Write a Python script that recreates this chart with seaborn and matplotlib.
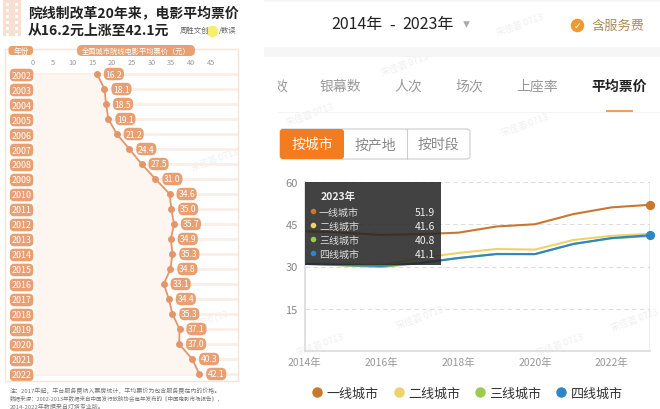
"""Ticket price comparison: national yearly dot line plus app screenshot by city tier."""

import matplotlib

matplotlib.use("Agg")

import matplotlib.pyplot as plt
import pandas as pd
import seaborn as sns
from matplotlib.lines import Line2D
from matplotlib.patches import FancyBboxPatch, Rectangle

years = list(range(2002, 2023))
prices = [16.2, 18.1, 18.5, 19.1, 21.2, 24.4, 27.5, 31.0, 34.6, 35.0, 35.7,
          34.9, 35.3, 34.8, 33.1, 34.4, 35.3, 37.1, 37.0, 40.3, 42.1]
price_ticks = [0, 5, 10, 15, 20, 25, 30, 35, 40, 45]

tier_years = list(range(2014, 2024))
tier1 = [42.5, 42.0, 41.2, 41.5, 42.0, 44.2, 45.0, 48.6, 51.0, 51.9]
tier2 = [31.2, 30.8, 30.6, 33.0, 34.8, 36.2, 36.0, 39.4, 40.9, 41.6]
tier3 = [31.0, 30.4, 29.8, 31.2, 33.0, 34.5, 34.4, 38.0, 40.0, 40.8]
tier4 = [30.9, 30.5, 30.2, 31.2, 33.0, 34.4, 34.4, 38.0, 40.1, 41.1]
tier_names = ["一线城市", "二线城市", "三线城市", "四线城市"]
tier_colors = ["#c9772f", "#ecd36a", "#9ccb4e", "#2f86c5"]
tabs = ["银幕数", "人次", "场次", "上座率", "平均票价"]
tooltip_values = ["51.9", "41.6", "40.8", "41.1"]

PEACH = "#e8a072"
WIDTH, HEIGHT = 660, 410

sns.set_theme(style="white")
plt.rcParams["font.family"] = ["Noto Sans CJK SC", "DejaVu Sans"]

fig = plt.figure(figsize=(WIDTH / 100, HEIGHT / 100), dpi=100)


def px_axes(left, top, right, bottom, **kwargs):
    return fig.add_axes([left / WIDTH, 1 - bottom / HEIGHT, (right - left) / WIDTH, (bottom - top) / HEIGHT], **kwargs)


# faint watermarks go on a bottom layer so they never cover the marks
wm = px_axes(0, 0, WIDTH, HEIGHT, zorder=-1)
wm.set_xlim(0, WIDTH)
wm.set_ylim(HEIGHT, 0)
wm.axis("off")
for mark_x, mark_y in [(75, 120), (55, 257), (215, 160), (205, 322), (310, 115), (405, 65), (525, 125),
                       (420, 318), (320, 345), (560, 345), (635, 320), (520, 25)]:
    wm.text(mark_x, mark_y, "宋佳荟 0713", fontsize=6.5, color="#efefef", rotation=20, ha="center", va="center")

# left panel: national average price
ax_l = px_axes(33, 68, 238, 382)
ax_l.patch.set_alpha(0)
ax_l.grid(axis="y", color="#f9efe9", lw=2)
ax_l.fill_betweenx(years, 0, prices, color="#fdf5f0", lw=0, zorder=1.5)
sns.lineplot(x=prices, y=years, orient="y", sort=False, estimator=None, color="#e3966a", lw=1.3,
             marker="o", markersize=5, markeredgewidth=0, ax=ax_l)
for year, price in zip(years, prices):
    ax_l.annotate(f"{price:.1f}", (price, year), xytext=(12.2, 0), textcoords="offset points",
                  ha="center", va="center", fontsize=6.2, color="white",
                  bbox=dict(boxstyle="round,pad=0.2,rounding_size=0.6", fc=PEACH, ec="none"))
ax_l.set_xlim(0, 205 / 3.95)
ax_l.set_ylim(2022 + 7 / 15, 2002 - 7 / 15)
ax_l.xaxis.tick_top()
ax_l.set_xticks(price_ticks)
ax_l.set_yticks(years)
ax_l.tick_params(axis="x", labelsize=5.3, labelcolor="#999999", length=0, pad=1)
ax_l.tick_params(axis="y", labelsize=6.4, labelcolor="white", length=0, pad=1)
for label in ax_l.get_yticklabels():
    label.set_bbox(dict(boxstyle="round,pad=0.2,rounding_size=0.5", fc=PEACH, ec="none"))
sns.despine(ax=ax_l, left=True, bottom=True, top=True, right=True)

# right panel: price by city tier
tier_df = pd.DataFrame({"year": tier_years, "一线城市": tier1, "二线城市": tier2, "三线城市": tier3, "四线城市": tier4})
tier_long = tier_df.melt(id_vars="year", var_name="tier", value_name="price")

ax_r = px_axes(304.7, 183, 650, 352)
ax_r.patch.set_alpha(0)
sns.lineplot(data=tier_long, x="year", y="price", hue="tier", hue_order=tier_names, palette=tier_colors,
             lw=1.5, legend=False, ax=ax_r)
ax_r.scatter(tier_years[-1], tier1[-1], s=32, color=tier_colors[0], zorder=5, clip_on=False)
ax_r.scatter(tier_years[-1], tier4[-1], s=32, color=tier_colors[3], zorder=5, clip_on=False)
ax_r.axvline(tier_years[-1], color="#aaaaaa", lw=1)
ax_r.set_xlim(2014, 2023)
ax_r.set_ylim(0, 60)
ax_r.set_xticks([2014, 2016, 2018, 2020, 2022], ["2014年", "2016年", "2018年", "2020年", "2022年"])
ax_r.set_yticks([15, 30, 45, 60])
ax_r.set_xlabel("")
ax_r.set_ylabel("")
ax_r.grid(axis="y", color="#dddddd", ls=(0, (4, 3)), lw=0.8)
ax_r.tick_params(axis="x", labelsize=7.5, labelcolor="#999999", length=0, pad=4)
ax_r.tick_params(axis="y", labelsize=8, labelcolor="#888888", length=0, pad=5)
for side in ["top", "right"]:
    ax_r.spines[side].set_visible(False)
for side in ["left", "bottom"]:
    ax_r.spines[side].set_color("#dddddd")

handles = [Line2D([], [], ls="", marker="o", ms=6.5, color=c) for c in tier_colors]
fig.legend(handles, tier_names, ncol=4, frameon=False, fontsize=9.4, labelcolor="#333333",
           loc="center", bbox_to_anchor=(466 / WIDTH, 1 - 394 / HEIGHT),
           handletextpad=0.1, columnspacing=0.95, handlelength=1.2)

# overlay in pixel coordinates for the page furniture
ui = px_axes(0, 0, WIDTH, HEIGHT)
ui.set_xlim(0, WIDTH)
ui.set_ylim(HEIGHT, 0)
ui.axis("off")
ui.patch.set_alpha(0)


def badge(x0, y0, x1, y1, color, radius=3.5, **kwargs):
    ui.add_patch(FancyBboxPatch((x0, y0), x1 - x0, y1 - y0, boxstyle=f"round,pad=0,rounding_size={radius}",
                                fc=color, ec=kwargs.pop("ec", "none"), lw=kwargs.pop("lw", 0), **kwargs))


# left header
ui.add_patch(Rectangle((3, 0), 18, 37, fc="#f9dfcf", ec="none"))
for hole_y in range(4, 36, 6):
    ui.add_patch(Rectangle((6, hole_y), 3, 3, fc="white", ec="none"))
    ui.add_patch(Rectangle((15, hole_y), 3, 3, fc="white", ec="none"))
ui.text(28, 13, "院线制改革20年来，电影平均票价", fontsize=10, fontweight="bold", color="#222222", va="center")
ui.text(28, 31, "从16.2元上涨至42.1元", fontsize=10, fontweight="bold", color="#222222", va="center")
ui.scatter(212, 32, s=70, color="#f7ee70", lw=0)
ui.text(180, 31, "周胜文创", fontsize=5.3, color="#666666", va="center")
ui.text(237, 31, "/数读", fontsize=5.3, color="#666666", va="center", ha="right")
ui.add_patch(Rectangle((5, 50), 233, 332, fc="none", ec="#f9e3d6", lw=1))
badge(8.5, 47, 33, 56, PEACH)
ui.text(21, 51.5, "年份", fontsize=5.5, color="white", ha="center", va="center")
badge(77, 46, 195, 57, PEACH, radius=5)
ui.text(136, 51.5, "全国城市院线电影平均票价（元）", fontsize=5.2, color="white", ha="center", va="center")
ui.text(10, 390.5, "注：2017年起，平台服务费纳入票房统计，平均票价为包含服务费在内的价格。",
        fontsize=4.3, color="#777777", va="center")
ui.text(10, 399, "数据来源：2002-2013年数据来自中国发行放映协会每年发布的《中国电影市场报告》，",
        fontsize=4.0, color="#777777", va="center")
ui.text(10, 406.5, "2014-2022年数据来自灯塔专业版。", fontsize=4.3, color="#777777", va="center")

# right header
ui.add_patch(Rectangle((264, 0), 396, 3, fc="#f7f7f7", ec="none"))
ui.add_patch(Rectangle((264, 48), 396, 10, fc="#f6f6f6", ec="none"))
ui.text(331, 25, "2014年", fontsize=11.5, color="#222222", va="center")
ui.text(392, 25, "-", fontsize=11.5, color="#222222", va="center", ha="center")
ui.text(454, 25, "2023年", fontsize=11.5, color="#222222", va="center", ha="right")
ui.scatter(466, 25, marker="v", s=22, color="#aaaaaa", lw=0)
ui.scatter(577, 26, s=95, color="#ee9a2f", lw=0)
ui.text(577, 26, "✓", fontsize=6.5, color="white", ha="center", va="center", family="DejaVu Sans")
ui.text(591, 26, "含服务费", fontsize=9.5, color="#b08a5a", va="center")
ui.text(287, 86.5, "效", fontsize=10, color="#999999", va="center", ha="right")
ui.add_patch(Rectangle((265, 76), 13, 20, fc="white", ec="none", zorder=5))
for tab_x, tab in zip([340, 408, 469, 537, 619], tabs):
    active = tab == "平均票价"
    ui.text(tab_x, 86.5, tab, fontsize=10, ha="center", va="center", color="#222222" if active else "#999999",
            fontweight="bold" if active else "normal")
ui.add_patch(Rectangle((606, 111), 27, 2, fc="#e5a35c", ec="none"))
ui.add_patch(Rectangle((278, 113), 382, 1, fc="#f4f4f4", ec="none"))

badge(280, 130, 470, 160, "white", radius=3, ec="#cccccc", lw=0.8)
badge(280, 130, 344, 160, "#f47c20", radius=3)
ui.plot([407, 407], [130, 160], color="#cccccc", lw=0.8)
ui.text(312, 145, "按城市", fontsize=10, color="white", ha="center", va="center")
ui.text(375, 145, "按产地", fontsize=10, color="#888888", ha="center", va="center")
ui.text(438, 145, "按时段", fontsize=10, color="#888888", ha="center", va="center")

# tooltip over the chart
ui.add_patch(Rectangle((304.7, 183), 136, 82.7, fc="#262626", alpha=0.87, ec="none"))
ui.text(321, 196.5, f"{tier_years[-1]}年", fontsize=7.5, fontweight="bold", color="#eeeeee", va="center")
for row_y, name, value, color in zip([213, 227, 241, 255], tier_names, tooltip_values, tier_colors):
    ui.scatter(312.5, row_y - 1, s=16, color=color, lw=0)
    ui.text(319, row_y, name, fontsize=7.2, color="#dddddd", va="center")
    ui.text(435, row_y, value, fontsize=7.5, color="#eeeeee", va="center", ha="right")

fig.savefig("out.png", dpi=100)
plt.close(fig)
